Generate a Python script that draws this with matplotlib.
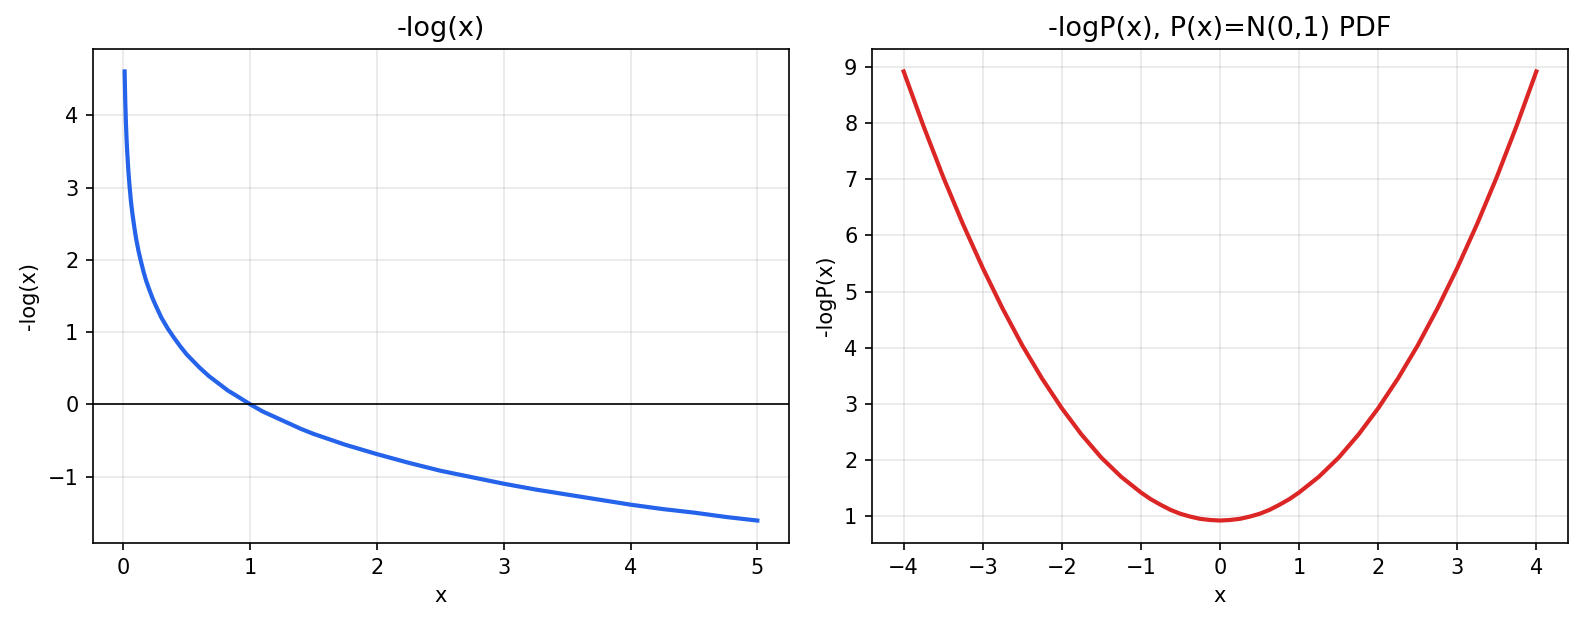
import matplotlib
matplotlib.use("Agg")
import matplotlib.pyplot as plt

# values
log_x = [0.01, 0.015, 0.02, 0.025, 0.03, 0.04, 0.05, 0.06, 0.07, 0.085, 0.1, 0.12, 0.14,
         0.16, 0.18, 0.2, 0.23, 0.26, 0.3, 0.35, 0.4, 0.45, 0.5, 0.55, 0.6, 0.675, 0.75,
         0.825, 0.9, 1.0, 1.1, 1.25, 1.4, 1.5, 1.75, 2.0, 2.25, 2.5, 2.75, 3.0, 3.25, 3.5,
         3.75, 4.0, 4.25, 4.5, 4.75, 5.0]
log_y = [4.61, 4.20, 3.91, 3.69, 3.51, 3.22, 3.00, 2.81, 2.66, 2.47, 2.30, 2.12, 1.97,
         1.83, 1.71, 1.61, 1.47, 1.35, 1.20, 1.05, 0.92, 0.80, 0.69, 0.60, 0.51, 0.39, 0.29,
         0.19, 0.11, 0.00, -0.10, -0.22, -0.34, -0.41, -0.56, -0.69, -0.81, -0.92, -1.01,
         -1.10, -1.18, -1.25, -1.32, -1.39, -1.45, -1.50, -1.56, -1.61]

nll_x = [-4.0, -3.75, -3.5, -3.25, -3.0, -2.75, -2.5, -2.25, -2.0, -1.75, -1.5, -1.25, -1.0,
         -0.875, -0.75, -0.625, -0.5, -0.375, -0.25, -0.125, 0.0, 0.125, 0.25, 0.375, 0.5,
         0.625, 0.75, 0.875, 1.0, 1.25, 1.5, 1.75, 2.0, 2.25, 2.5, 2.75, 3.0, 3.25, 3.5,
         3.75, 4.0]
nll_y = [8.92, 7.95, 7.04, 6.20, 5.42, 4.70, 4.04, 3.45, 2.92, 2.45, 2.04, 1.70, 1.42,
         1.30, 1.20, 1.11, 1.04, 0.99, 0.95, 0.93, 0.92, 0.93, 0.95, 0.99, 1.04,
         1.11, 1.20, 1.30, 1.42, 1.70, 2.04, 2.45, 2.92, 3.45, 4.04, 4.70, 5.42, 6.20, 7.04,
         7.95, 8.92]

fig, (ax1, ax2) = plt.subplots(1, 2, figsize=(10.56, 4.16), dpi=150)
fig.subplots_adjust(left=0.0587, right=0.9899, top=0.9215, bottom=0.1298, wspace=0.1193)

ax1.plot(log_x, log_y, color="#2563eb", linewidth=2, solid_joinstyle="round")
ax1.axhline(0, color="black", linewidth=0.8)
ax1.set_title("-log(x)", fontsize=13)
ax1.set_xlabel("x")
ax1.set_ylabel("-log(x)")
ax1.grid(alpha=0.3)

ax2.plot(nll_x, nll_y, color="#dc2626", linewidth=2, solid_joinstyle="round")
ax2.set_title("-logP(x), P(x)=N(0,1) PDF", fontsize=13)
ax2.set_xlabel("x")
ax2.set_ylabel("-logP(x)")
ax2.grid(alpha=0.3)

plt.savefig("out.png", dpi=150)
